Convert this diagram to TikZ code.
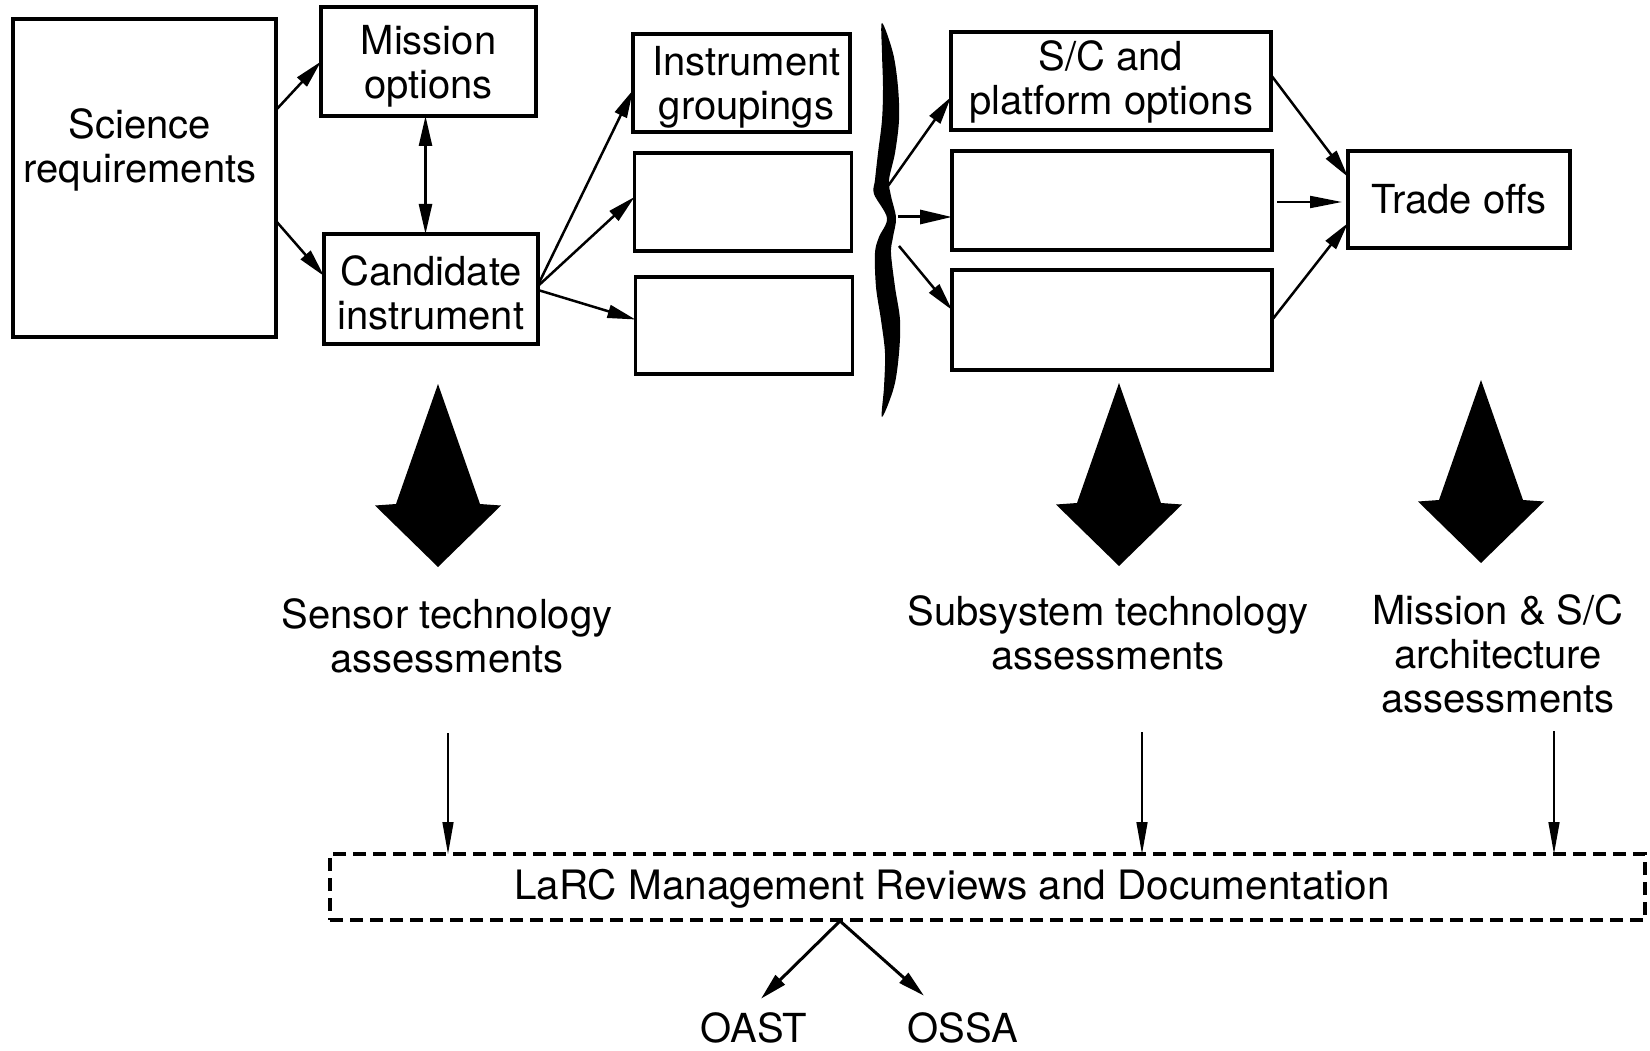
\documentclass[tikz,border=0pt]{standalone}
\usepackage{fontspec}
\setmainfont{TeX Gyre Heros}
\usetikzlibrary{arrows.meta,calc}
\newcommand\dgfont{\fontsize{40}{44}\selectfont}
\newcommand\dnstrut{\rule{0pt}{38pt}}
\begin{document}
\begin{tikzpicture}[x=1pt,y=-1pt,
  box/.style={draw, line width=3.5pt, inner sep=0pt, outer sep=0pt, align=center, font=\dgfont},
  lbl/.style={inner sep=0pt, outer sep=0pt, align=center, font=\dgfont},
  arr/.style={line width=2.5pt, -{Triangle[length=28pt,width=13pt]}},
  thinarr/.style={line width=1.5pt, -{Triangle[length=32pt,width=11pt]}},
  dblarr/.style={line width=2.5pt, {Triangle[length=30pt,width=13pt]}-{Triangle[length=30pt,width=13pt]}},
  bigarrow/.pic={\fill (0,0) -- (-42,120) -- (-63,121.5) -- (0,183) -- (63,121.5) -- (42,120) -- cycle;}
]
\useasboundingbox (0,0) rectangle (1650,1051);
\fill[white] (0,0) rectangle (1650,1051);

% top row boxes
\node[box, minimum width=263pt, minimum height=318pt] (sci) at (144.5,178) {};
\node[lbl] (scitext) at (140,150) {Science\\requirements};
\node[box, minimum width=215pt, minimum height=109pt] (mis) at (428.5,61.5) {\dnstrut Mission\\options};
\node[box, minimum width=214pt, minimum height=110pt] (cand) at (431,289) {\dnstrut Candidate\\instrument};
\node[box, minimum width=217pt, minimum height=98pt] (ig1) at (741.5,83) {\dnstrut\hspace*{10pt}Instrument\\\hspace*{10pt}groupings};
\node[box, minimum width=217pt, minimum height=98pt] (ig2) at (743,202) {};
\node[box, minimum width=217pt, minimum height=97pt] (ig3) at (744,325.5) {};
\node[box, minimum width=320pt, minimum height=98pt] (sc1) at (1111,81) {\rule{0pt}{32pt}S/C and\\platform options};
\node[box, minimum width=320pt, minimum height=99pt] (sc2) at (1112,200.5) {};
\node[box, minimum width=320pt, minimum height=100pt] (sc3) at (1112,320) {};
\node[box, minimum width=222pt, minimum height=97pt] (trade) at (1459,199.5) {Trade offs};

% brace
\fill plot[smooth cycle, tension=0.55] coordinates {
  (882,23) (893,53) (898,87) (899,120) (895,153) (889,180) (891,196) (896,218)
  (893,237) (891,253) (895,287) (900,320) (899,353) (894,387) (882,417)
  (884,387) (885,353) (881,320) (876,287) (875,253) (879,237) (887,218)
  (874,194) (875,180) (878,153) (882,120) (883,87) (882,53)};
\coordinate (b1) at (888,186);
\coordinate (b2) at (898,217);
\coordinate (b3) at (899,246);

% connectors top
\draw[arr] ([yshift=68pt]sci.east) -- (mis.west);
\draw[arr] ([yshift=-43pt]sci.east) -- ([yshift=13pt]cand.west);
\draw[dblarr] ([xshift=-3pt]mis.south) -- ([xshift=-3pt]mis.south |- cand.north);
\draw[arr] ([yshift=4pt]cand.east) -- ([yshift=-7pt]ig1.west);
\draw[arr] ([yshift=3pt]cand.east) -- ([yshift=5pt]ig2.west);
\draw[arr] ([yshift=-1pt]cand.east) -- ([yshift=6pt]ig3.west);
\draw[arr] (b1) -- ([yshift=-16pt]sc1.west);
\draw[line width=3pt, -{Triangle[length=32pt,width=14pt]}] (b2) -- (b2 -| sc2.west);
\draw[arr] (b3) -- ([yshift=10pt]sc3.west);
\draw[arr] ([yshift=6pt]sc1.east) -- ([yshift=22.5pt]trade.west);
\draw[line width=2pt, -{Triangle[length=32pt,width=12pt]}, shorten <=5pt, shorten >=6pt] ([yshift=-1.5pt]sc2.east) -- ([yshift=-2.5pt]trade.west);
\draw[arr] (sc3.east) -- ([yshift=-23.5pt]trade.west);

% big arrows
\pic at (438,384) {bigarrow};
\pic at (1119,383) {bigarrow};
\pic at (1481,380) {bigarrow};

% assessment labels
\node[lbl] (sensor) at (447,635.5) {Sensor technology\\assessments};
\node[lbl] (subsys) at (1108,633) {Subsystem technology\\assessments};
\node[lbl] (msc) at (1498,654) {Mission \& S/C\\architecture\\assessments};

% dashed box
\node[draw, line width=4pt, dash pattern=on 13pt off 7pt, inner sep=0pt, outer sep=0pt,
      minimum width=1315pt, minimum height=66pt] (larc) at (987.5,887) {};
\node[lbl, font=\fontsize{40.5}{44}\selectfont] (larctext) at (952,889) {LaRC Management Reviews and Documentation};

\coordinate (a1) at (448,733);
\coordinate (a2) at (1142,732);
\coordinate (a3) at (1554,731);
\draw[thinarr] (a1) -- (a1 |- larc.north);
\draw[thinarr] (a2) -- (a2 |- larc.north);
\draw[thinarr] (a3) -- (a3 |- larc.north);

% bottom
\node[lbl] (oast) at (754,1028) {OAST};
\node[lbl] (ossa) at (963,1028) {OSSA};
\coordinate (split) at (840,921);
\draw[line width=3pt, -{Triangle[length=27pt,width=13pt]}] (split) -- ([xshift=7pt,yshift=14pt]oast.north);
\draw[line width=3pt, -{Triangle[length=27pt,width=13pt]}] (split) -- ([xshift=-39pt,yshift=17pt]ossa.north);
\end{tikzpicture}
\end{document}
